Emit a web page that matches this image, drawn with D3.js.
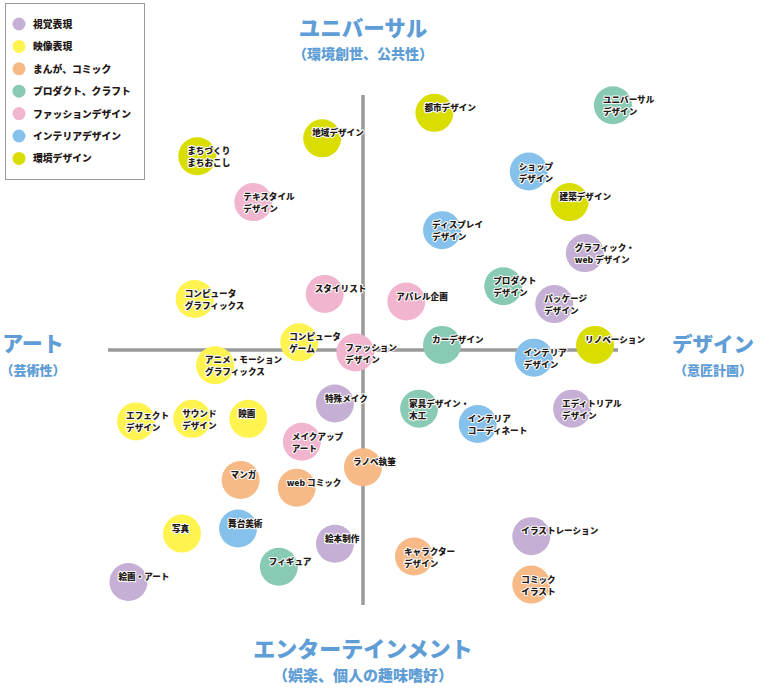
<!DOCTYPE html>
<html>
<head>
<meta charset="utf-8">
<script src="https://cdn.jsdelivr.net/npm/d3@7"></script>
<style>
body { margin: 0; background: #fff; }
svg text { font-family: "Noto Sans CJK JP", "Noto Sans", sans-serif; font-weight: 900; }
</style>
</head>
<body>
<svg id="chart" width="760" height="689"></svg>
<script>
// categories and colours
var categories = ["視覚表現", "映像表現", "まんが、コミック", "プロダクト、クラフト", "ファッションデザイン", "インテリアデザイン", "環境デザイン"];
var catColors = ["#c5afd4", "#fff350", "#f7b985", "#88cab4", "#f2b5cf", "#85c1ea", "#dadd00"];

// axis labels
var axisTop = ["ユニバーサル", "（環境創世、公共性）"];
var axisBottom = ["エンターテインメント", "（娯楽、個人の趣味嗜好）"];
var axisLeft = ["アート", "（芸術性）"];
var axisRight = ["デザイン", "（意匠計画）"];

// items: label, category index, x (アート -100 .. デザイン 100), y (エンタメ -100 .. ユニバーサル 100)
var itemLabels = [
	"まちづくり\nまちおこし", "地域デザイン", "テキスタイル\nデザイン", "都市デザイン", "ユニバーサル\nデザイン",
	"ショップ\nデザイン", "建築デザイン", "ディスプレイ\nデザイン", "グラフィック・\nweb デザイン", "コンピュータ\nグラフィックス",
	"スタイリスト", "コンピュータ\nゲーム", "ファッション\nデザイン", "アニメ・モーション\nグラフィックス", "エフェクト\nデザイン",
	"サウンド\nデザイン", "映画", "特殊メイク", "メイクアップ\nアート", "アパレル企画",
	"プロダクト\nデザイン", "パッケージ\nデザイン", "カーデザイン", "インテリア\nデザイン", "リノベーション",
	"家具デザイン・\n木工", "インテリア\nコーディネート", "エディトリアル\nデザイン", "マンガ", "web コミック",
	"ラノベ執筆", "写真", "舞台美術", "絵本制作", "フィギュア",
	"絵画・アート", "イラストレーション", "キャラクター\nデザイン", "コミック\nイラスト"
];
var itemCats = [
	6, 6, 4, 6, 3,
	5, 6, 5, 0, 1,
	4, 1, 4, 1, 1,
	1, 1, 0, 4, 4,
	3, 0, 3, 5, 6,
	3, 5, 0, 2, 2,
	2, 1, 5, 0, 3,
	0, 0, 2, 2
];
var itemX = [
	-65, -16, -43, 28, 98,
	65, 81, 31, 87, -66,
	-15, -25, -3, -58, -89,
	-67, -45, -11, -24, 17,
	55, 75, 31, 67, 91,
	22, 45, 82, -48, -26,
	0, -71, -49, -11, -33,
	-92, 66, 20, 66
];
var itemY = [
	76, 83, 58, 93, 96,
	70, 58, 47, 38, 20,
	22, 3, -1, -6, -28,
	-27, -27, -21, -36, 19,
	25, 18, 2, -3, 2,
	-23, -29, -23, -51, -54,
	-46, -72, -70, -76, -85,
	-91, -73, -81, -92
];

var svg = d3.select("#chart");
var blue = "#5e9dd5";

var x = d3.scaleLinear().domain([-100, 100]).range([108, 618]);
var y = d3.scaleLinear().domain([-100, 100]).range([605, 95]);

// cross axes
svg.append("line")
	.attr("x1", x(-100)).attr("x2", x(100))
	.attr("y1", y(0)).attr("y2", y(0))
	.attr("stroke", "#9a9a9a").attr("stroke-width", 3.5);
svg.append("line")
	.attr("x1", x(0)).attr("x2", x(0))
	.attr("y1", y(-100)).attr("y2", y(100))
	.attr("stroke", "#9a9a9a").attr("stroke-width", 3.5);

// axis titles
function axisTitle(lines, cx, cy1, cy2, s1, s2)
{
	svg.append("text").text(lines[0])
		.attr("x", cx).attr("y", cy1)
		.attr("text-anchor", "middle").attr("dominant-baseline", "central")
		.attr("font-size", s1).attr("fill", blue);
	svg.append("text").text(lines[1])
		.attr("x", cx).attr("y", cy2)
		.attr("text-anchor", "middle").attr("dominant-baseline", "central")
		.attr("font-size", s2).attr("fill", blue);
}
axisTitle(axisTop, 363, 26, 53, 21.5, 14);
axisTitle(axisBottom, 363, 647, 674, 22, 15);
axisTitle(axisLeft, 33, 342, 369, 21, 13);
axisTitle(axisRight, 713, 343, 369, 20.5, 13);

// bubbles
var items = itemLabels.map(function(d, i)
{
	return { label: d, cat: itemCats[i], x: itemX[i], y: itemY[i] };
});

svg.selectAll("circle.item").data(items).enter().append("circle")
	.classed("item", 1)
	.attr("cx", function(d) { return x(d.x); })
	.attr("cy", function(d) { return y(d.y); })
	.attr("r", 19)
	.attr("fill", function(d) { return catColors[d.cat]; });

var labels = svg.selectAll("text.item").data(items).enter().append("text")
	.classed("item", 1)
	.attr("font-size", 8.6)
	.attr("fill", "#231815")
	.attr("stroke", "#fff")
	.attr("stroke-width", 2)
	.attr("stroke-linejoin", "round")
	.attr("paint-order", "stroke");

labels.each(function(d)
{
	var t = d3.select(this);
	d.label.split("\n").forEach(function(line, k)
	{
		t.append("tspan")
			.attr("x", x(d.x) - 10)
			.attr("y", y(d.y) - 6 + k * 12)
			.attr("dominant-baseline", "central")
			.text(line);
	});
});

// legend
svg.append("rect")
	.attr("x", 5.5).attr("y", 3.5)
	.attr("width", 139).attr("height", 176)
	.attr("fill", "#fff").attr("stroke", "#999");

var legend = svg.selectAll("g.legend").data(categories).enter().append("g")
	.classed("legend", 1)
	.attr("transform", function(d, i) { return "translate(19," + (24 + i * 22.4) + ")"; });

legend.append("circle")
	.attr("r", 6.5)
	.attr("fill", function(d, i) { return catColors[i]; });

legend.append("text")
	.text(function(d) { return d; })
	.attr("x", 14)
	.attr("dominant-baseline", "central")
	.attr("font-size", 9.8)
	.attr("fill", "#231815");
</script>
</body>
</html>
